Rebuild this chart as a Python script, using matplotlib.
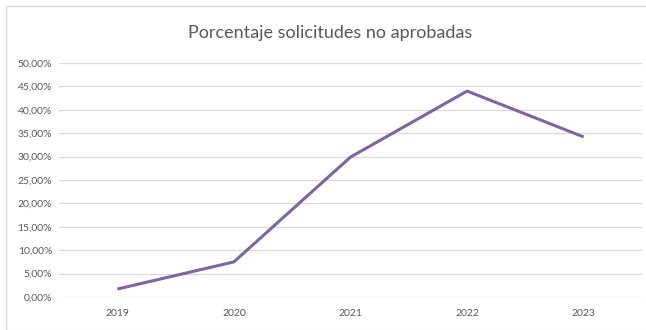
import matplotlib
matplotlib.use("Agg")
import matplotlib.pyplot as plt
from matplotlib.patches import Rectangle
from matplotlib.ticker import FuncFormatter

years = ["2019", "2020", "2021", "2022", "2023"]
pct = [1.7, 7.5, 29.9, 44.0, 34.2]

plt.rcParams['font.family'] = ['Lato', 'DejaVu Sans']

fig = plt.figure(figsize=(6.46, 3.30), dpi=100)
fig.patch.set_facecolor("white")

# chart frame
fig.patches.append(Rectangle((6 / 646, 0.0), 1.2, 1 - 6 / 330, transform=fig.transFigure,
                             fill=False, edgecolor="#d9d9d9", linewidth=1.0))

ax = fig.add_axes([59 / 646, 1 - 297 / 330, 583 / 646, 234 / 330])
x = range(len(years))
ax.plot(x, pct, color="#8064a2", linewidth=2.2, solid_capstyle="butt")

ax.set_xlim(-0.5, len(years) - 0.5)
ax.set_ylim(0, 50)
ax.set_yticks(range(0, 51, 5))
ax.yaxis.set_major_formatter(FuncFormatter(lambda v, p: ("%.2f%%" % v).replace(".", ",")))
ax.set_xticks(list(x))
ax.set_xticklabels(years)
ax.grid(axis="y", color="#d9d9d9", linewidth=0.9)
ax.set_axisbelow(True)
for s in ax.spines.values():
    s.set_visible(False)
ax.tick_params(length=0, labelsize=7.5, colors="#595959", pad=5)
ax.tick_params(axis="x", pad=9)

fig.text(0.511, 1 - 33 / 330, "Porcentaje solicitudes no aprobadas", ha="center", va="center",
         fontsize=13, color="#595959")

fig.savefig("out.png", dpi=100)
